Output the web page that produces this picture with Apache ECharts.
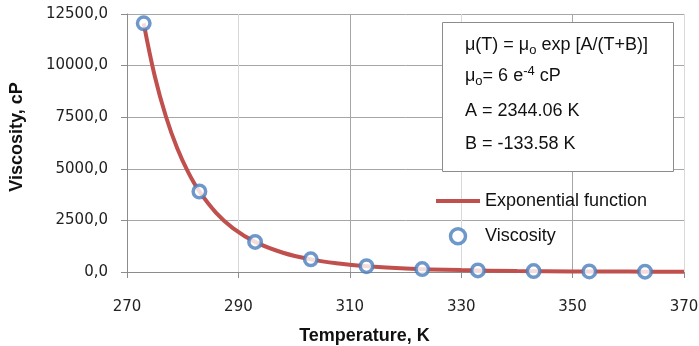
<!DOCTYPE html>
<html>
<head>
<meta charset="utf-8">
<script src="https://cdn.jsdelivr.net/npm/echarts@6/dist/echarts.min.js"></script>
<style>
  html, body { margin: 0; padding: 0; background: #fff; }
  #main { width: 699px; height: 346px; }
</style>
</head>
<body>
<div id="main"></div>
<script>
// measured viscosity points (K, cP)
var tempPoints = [273, 283, 293, 303, 313, 323, 333, 343, 353, 363];
var viscPoints = [12050, 3900, 1458, 612, 283, 142, 76, 44, 26, 16];

// fitted curve
var curveT = [273, 275, 277, 279, 281, 283, 286, 289, 293, 298, 303, 308, 313, 320, 330, 340, 350, 360, 370];
var curveV = [12050, 9475, 7521, 6007, 4827, 3901, 2865, 2129, 1458, 933, 612, 412, 283, 173, 91, 51, 30, 19, 12];

var xTicks = [270, 290, 310, 330, 350, 370];
var yTicks = [0, 2500, 5000, 7500, 10000, 12500];

var eqLines = [
    'μ(T) = μ{sub|o} exp [A/(T+B)]',
    'μ{sub|o}= 6 e{sup|-4} cP',
    'A = 2344.06 K',
    'B = -133.58 K'
];

(function () {
    var myChart = echarts.init(document.getElementById('main'));

    var curveData = [];
    for (var i = 0; i < curveT.length; i++) {
        curveData.push([curveT[i], curveV[i]]);
    }
    var pointData = [];
    for (var j = 0; j < tempPoints.length; j++) {
        pointData.push([tempPoints[j], viscPoints[j]]);
    }

    var eqMid = [45, 76, 111, 144];
    var eqGraphics = [{
        type: 'rect',
        shape: { x: 442.5, y: 22.5, width: 231, height: 149 },
        style: { fill: '#fff', stroke: '#8c8c8c', lineWidth: 1 },
        z: 10
    }];
    for (var k = 0; k < eqLines.length; k++) {
        eqGraphics.push({
            type: 'text',
            x: 465,
            y: eqMid[k],
            z: 11,
            style: {
                text: eqLines[k],
                fill: '#111',
                verticalAlign: 'middle',
                font: '18px "Liberation Sans", Arial, sans-serif',
                rich: {
                    sub: { fontSize: 13, fontFamily: 'Liberation Sans', fill: '#111', padding: [10, 0, 0, 0] },
                    sup: { fontSize: 13, fontFamily: 'Liberation Sans', fill: '#111', padding: [0, 0, 10, 0] }
                }
            }
        });
    }

    var option = {
        animation: false,
        backgroundColor: '#fff',
        grid: {
            left: 127,
            right: 15,
            top: 14,
            bottom: 74,
            outerBoundsMode: 'none'
        },
        legend: {
            orient: 'vertical',
            left: 431,
            top: 187,
            itemWidth: 44,
            itemHeight: 15,
            itemGap: 17,
            textStyle: {
                fontFamily: 'Liberation Sans',
                fontSize: 18,
                color: '#111'
            },
            data: [
                { name: 'Exponential function', icon: 'path://M0,0 L44,0 L44,4 L0,4 Z' },
                {
                    name: 'Viscosity',
                    icon: 'circle',
                    itemStyle: { color: '#fff', borderColor: '#4a7ebb', borderWidth: 3.5 }
                }
            ]
        },
        xAxis: {
            type: 'value',
            min: 270,
            max: 370,
            interval: 10,
            name: 'Temperature, K',
            nameLocation: 'middle',
            nameGap: 55,
            nameTextStyle: {
                fontFamily: 'Liberation Sans',
                fontWeight: 'bold',
                fontSize: 18,
                color: '#111',
                padding: [0, 82, 0, 0]
            },
            axisLine: { show: true, lineStyle: { color: '#8c8c8c' } },
            axisTick: { show: true, length: 6, customValues: xTicks, lineStyle: { color: '#8c8c8c' } },
            axisLabel: {
                margin: 28,
                fontFamily: 'DejaVu Sans',
                fontSize: 15,
                color: '#222',
                customValues: xTicks
            },
            splitLine: { show: true, lineStyle: { color: ['#a6a6a6', '#d9d9d9'] } }
        },
        yAxis: {
            type: 'value',
            min: 0,
            max: 12500,
            interval: 2500,
            name: 'Viscosity, cP',
            nameLocation: 'middle',
            nameGap: 101,
            nameTextStyle: {
                fontFamily: 'Liberation Sans',
                fontWeight: 'bold',
                fontSize: 18,
                color: '#111',
                padding: [0, 0, 0, 12]
            },
            axisLine: { show: true, lineStyle: { color: '#8c8c8c' } },
            axisTick: { show: true, length: 6, lineStyle: { color: '#8c8c8c' } },
            axisLabel: {
                margin: 19,
                fontFamily: 'DejaVu Sans',
                fontSize: 15,
                color: '#222',
                formatter: function (v) {
                    return v.toFixed(1).replace('.', ',');
                }
            },
            splitLine: { show: true, lineStyle: { color: '#a6a6a6' } }
        },
        graphic: eqGraphics,
        series: [
            {
                name: 'Exponential function',
                type: 'line',
                data: curveData,
                smooth: 0.4,
                symbol: 'none',
                lineStyle: { color: '#c0504d', width: 4 },
                itemStyle: { color: '#c0504d' },
                z: 2
            },
            {
                name: 'Viscosity',
                type: 'scatter',
                data: pointData,
                symbol: 'circle',
                symbolSize: 12.5,
                itemStyle: {
                    color: '#fff',
                    borderColor: '#4a7ebb',
                    borderWidth: 3.5
                },
                z: 3
            }
        ]
    };

    myChart.setOption(option);
})();
</script>
</body>
</html>
